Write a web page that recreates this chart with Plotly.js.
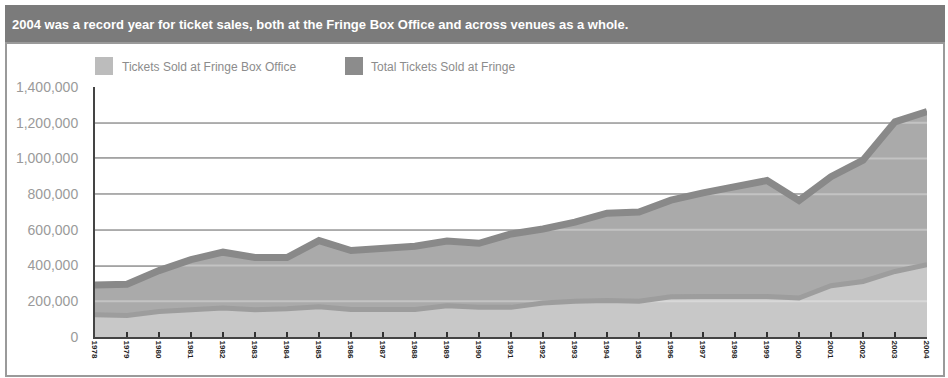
<!DOCTYPE html>
<html>
<head>
<meta charset="utf-8">
<script src="https://cdn.plot.ly/plotly-3.0.1.min.js"></script>
<style>html,body{margin:0;padding:0;background:#fff;}#chart{width:948px;height:378px;}</style>
</head>
<body>
<div id="chart"></div>
<script>
const years = [1978,1979,1980,1981,1982,1983,1984,1985,1986,1987,1988,1989,1990,1991,1992,1993,1994,1995,1996,1997,1998,1999,2000,2001,2002,2003,2004];
const totalTickets = [291000,295000,372000,433000,475000,445000,445000,540000,484000,493000,508000,538000,525000,577000,605000,643000,693000,700000,766000,807000,841000,876000,764000,898000,990000,1205000,1263000];
const boxOfficeTickets = [125000,120000,143000,153000,162000,153000,158000,170000,154000,154000,154000,175000,166000,166000,190000,200000,205000,200000,225000,227000,228000,227000,218000,287000,311000,367000,405000];
const yTickVals = [0,200000,400000,600000,800000,1000000,1200000,1400000];
const yTickText = ['0','200,000','400,000','600,000','800,000','1,000,000','1,200,000','1,400,000'];
const seriesNames = ['Tickets Sold at Fringe Box Office','Total Tickets Sold at Fringe'];
const titleText = '2004 was a record year for ticket sales, both at the Fringe Box Office and across venues as a whole.';

const W = 948, H = 378, L = 95, R = 21, T = 87, B = 41;
const pw = W - L - R, ph = H - T - B;
const px = x => (x - L) / pw;
const py = y => (H - B - y) / ph;

const traces = [];
traces.push({x: years, y: totalTickets, type: 'scatter', mode: 'lines', fill: 'tozeroy',
  fillcolor: '#aaaaaa', line: {width: 0, color: '#aaaaaa'}, showlegend: false, name: seriesNames[1], hoverinfo: 'skip'});
traces.push({x: years, y: boxOfficeTickets, type: 'scatter', mode: 'lines', fill: 'tozeroy',
  fillcolor: '#c8c8c8', line: {width: 0, color: '#c8c8c8'}, showlegend: false, name: seriesNames[0], hoverinfo: 'skip'});
yTickVals.slice(1).forEach(v => {
  traces.push({x: [years[0], years[years.length-1]], y: [v, v], type: 'scatter', mode: 'lines',
    line: {width: 2, color: 'rgba(255,255,255,0.3)'}, showlegend: false, hoverinfo: 'skip'});
});
traces.push({x: years, y: totalTickets, type: 'scatter', mode: 'lines',
  line: {width: 7, color: '#898989'}, showlegend: false, name: seriesNames[1]});
traces.push({x: years, y: boxOfficeTickets, type: 'scatter', mode: 'lines',
  line: {width: 5, color: '#9d9d9d'}, showlegend: false, name: seriesNames[0]});

const shapes = [
  {type: 'rect', xref: 'paper', yref: 'paper', x0: px(6), x1: px(944), y0: py(43), y1: py(376),
   fillcolor: '#ffffff', line: {color: '#9a9a9a', width: 2}, layer: 'below'},
  {type: 'rect', xref: 'paper', yref: 'paper', x0: px(5), x1: px(945), y0: py(5), y1: py(42),
   fillcolor: '#7b7b7b', line: {width: 0}, layer: 'below'},
  {type: 'rect', xref: 'paper', yref: 'paper', x0: px(95), x1: px(113), y0: py(57), y1: py(75),
   fillcolor: '#bcbcbc', line: {width: 0}, layer: 'above'},
  {type: 'rect', xref: 'paper', yref: 'paper', x0: px(345), x1: px(363), y0: py(57), y1: py(75),
   fillcolor: '#8c8c8c', line: {width: 0}, layer: 'above'}
];

const annotations = [
  {xref: 'paper', yref: 'paper', x: px(120), y: py(67), xanchor: 'left', yanchor: 'middle', showarrow: false,
   text: seriesNames[0], font: {family: 'Liberation Sans Narrow, Liberation Sans', size: 12, color: '#8c8c8c'}},
  {xref: 'paper', yref: 'paper', x: px(369), y: py(67), xanchor: 'left', yanchor: 'middle', showarrow: false,
   text: seriesNames[1], font: {family: 'Liberation Sans Narrow, Liberation Sans', size: 12, color: '#8c8c8c'}}
];

const layout = {
  width: W, height: H,
  margin: {l: L, r: R, t: T, b: B, pad: 0},
  paper_bgcolor: '#ffffff', plot_bgcolor: 'rgba(0,0,0,0)',
  title: {text: '<b>' + titleText + '</b>', x: 12 / W, xanchor: 'left', xref: 'container',
    y: 1 - 24 / H, yanchor: 'middle', yref: 'container',
    font: {family: 'Liberation Sans Narrow, Liberation Sans', size: 13, color: '#ffffff'}},
  xaxis: {range: [years[0], years[years.length-1]], tickvals: years, ticktext: years.map(y => '<b>' + y + '</b>'),
    tickangle: 90, ticks: 'inside', ticklen: 5, tickwidth: 2, tickcolor: '#333333',
    showgrid: false, zeroline: false, showline: true, linecolor: '#444444', linewidth: 2,
    tickfont: {family: 'Liberation Sans Narrow, Liberation Sans', size: 8, color: '#222222'},
    layer: 'above traces', fixedrange: true},
  yaxis: {range: [0, 1400000], tickvals: yTickVals, ticktext: yTickText,
    showgrid: true, gridcolor: '#939393', gridwidth: 2, zeroline: false,
    showline: true, linecolor: '#444444', linewidth: 2, ticks: '', ticklabelstandoff: 12,
    tickfont: {family: 'Liberation Sans', size: 14, color: '#9a9a9a'},
    layer: 'above traces', fixedrange: true},
  shapes: shapes, annotations: annotations, showlegend: false, hovermode: false
};

Plotly.newPlot('chart', traces, layout, {displayModeBar: false, staticPlot: true});
</script>
</body>
</html>
